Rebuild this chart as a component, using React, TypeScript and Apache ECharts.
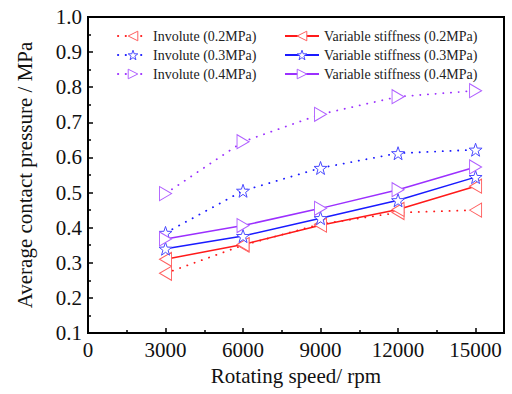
import React, { useEffect, useRef } from "react";
import * as echarts from "echarts";

const speeds = [3000, 6000, 9000, 12000, 15000];
const involute02 = [0.27, 0.35, 0.41, 0.443, 0.45];
const involute03 = [0.385, 0.505, 0.57, 0.612, 0.622];
const involute04 = [0.497, 0.645, 0.723, 0.773, 0.79];
const variable02 = [0.31, 0.352, 0.407, 0.452, 0.518];
const variable03 = [0.34, 0.376, 0.427, 0.478, 0.544];
const variable04 = [0.368, 0.406, 0.455, 0.508, 0.573];

const seriesNames = [
  "Involute (0.2MPa)",
  "Involute (0.3MPa)",
  "Involute (0.4MPa)",
  "Variable stiffness (0.2MPa)",
  "Variable stiffness (0.3MPa)",
  "Variable stiffness (0.4MPa)",
];

const STAR =
  "path://M100,0 L123.5,67.6 L195.1,69.1 L138,112.4 L158.8,180.9 L100,140 L41.2,180.9 L62,112.4 L4.9,69.1 L76.5,67.6 Z";

const FONT = "'Liberation Serif', 'Times New Roman', serif";

export default function App() {
  const ref = useRef<HTMLDivElement>(null);
  useEffect(() => {
    if (!ref.current) return;
    const chart = echarts.init(ref.current, null, { renderer: "svg" });
    const mk = (
      name: string,
      values: number[],
      line: string,
      marker: string,
      dotted: boolean,
      kind: "left" | "star" | "right"
    ) => ({
      name,
      type: "line",
      data: speeds.map((s, i) => [s, values[i]]),
      symbol: kind === "star" ? STAR : "triangle",
      symbolRotate: kind === "left" ? 90 : kind === "right" ? -90 : 0,
      symbolSize: kind === "star" ? 13 : [14, 12],
      showAllSymbol: true,
      lineStyle: dotted
        ? { color: line, width: 1.8, type: [0.2, 7.5], cap: "round" }
        : { color: line, width: 1.5, type: "solid" },
      itemStyle: { color: "#ffffff", borderColor: marker, borderWidth: 1 },
      z: dotted ? 2 : 3,
    });
    const red = "#ff1a1a";
    const redM = "#ff6060";
    const blue = "#1a1aff";
    const blueM = "#4a4aff";
    const purple = "#9b30ff";
    const purpleM = "#b060ff";
    const legendText = { fontFamily: FONT, fontSize: 14, color: "#222" };
    const legendItem = { color: "#ffffff", borderWidth: 1 };
    chart.setOption({
      animation: false,
      backgroundColor: "#ffffff",
      grid: {
        left: 88,
        right: 8,
        top: 17,
        bottom: 61,
        show: true,
        borderColor: "#000",
        borderWidth: 2,
        outerBoundsMode: "none",
        containLabel: false,
      },
      legend: [
        {
          data: seriesNames.slice(0, 3),
          orient: "vertical",
          left: 112,
          top: 24,
          itemWidth: 30,
          itemHeight: 12,
          itemGap: 5,
          itemStyle: legendItem,
          textStyle: legendText,
        },
        {
          data: seriesNames.slice(3),
          orient: "vertical",
          left: 279,
          top: 24,
          itemWidth: 34,
          itemHeight: 12,
          itemGap: 5,
          itemStyle: legendItem,
          textStyle: legendText,
        },
      ],
      xAxis: {
        type: "value",
        min: 0,
        max: 16100,
        interval: 3000,
        name: "Rotating speed/ rpm",
        nameLocation: "middle",
        nameGap: 32,
        nameTextStyle: { fontFamily: FONT, fontSize: 21, color: "#111" },
        axisLine: { show: true, lineStyle: { color: "#000", width: 2 } },
        axisTick: { show: true, inside: true, length: 5, lineStyle: { color: "#000", width: 1.5 } },
        minorTick: { show: true, splitNumber: 2, length: 3, lineStyle: { color: "#000", width: 1.5 } },
        axisLabel: {
          fontFamily: FONT,
          fontSize: 21,
          color: "#111",
          margin: 6,
          showMaxLabel: false,
          formatter: (v: number) => String(v),
        },
        splitLine: { show: false },
      },
      yAxis: {
        type: "value",
        min: 0.1,
        max: 1.0,
        interval: 0.1,
        name: "Average contact pressure / MPa",
        nameLocation: "middle",
        nameGap: 53,
        nameTextStyle: { fontFamily: FONT, fontSize: 21, color: "#111" },
        axisLine: { show: true, lineStyle: { color: "#000", width: 2 } },
        axisTick: { show: true, inside: true, length: 5, lineStyle: { color: "#000", width: 1.5 } },
        minorTick: { show: true, splitNumber: 2, length: 3, lineStyle: { color: "#000", width: 1.5 } },
        axisLabel: {
          fontFamily: FONT,
          fontSize: 21,
          color: "#111",
          margin: 6,
          formatter: (v: number) => v.toFixed(1),
        },
        splitLine: { show: false },
      },
      series: [
        mk(seriesNames[0], involute02, red, redM, true, "left"),
        mk(seriesNames[1], involute03, blue, blueM, true, "star"),
        mk(seriesNames[2], involute04, purple, purpleM, true, "right"),
        mk(seriesNames[3], variable02, red, redM, false, "left"),
        mk(seriesNames[4], variable03, blue, blueM, false, "star"),
        mk(seriesNames[5], variable04, purple, purpleM, false, "right"),
      ],
    });
    return () => chart.dispose();
  }, []);
  return (
    <div
      ref={ref}
      style={{ position: "fixed", left: 0, top: 0, width: 512, height: 394, background: "#fff" }}
    />
  );
}
